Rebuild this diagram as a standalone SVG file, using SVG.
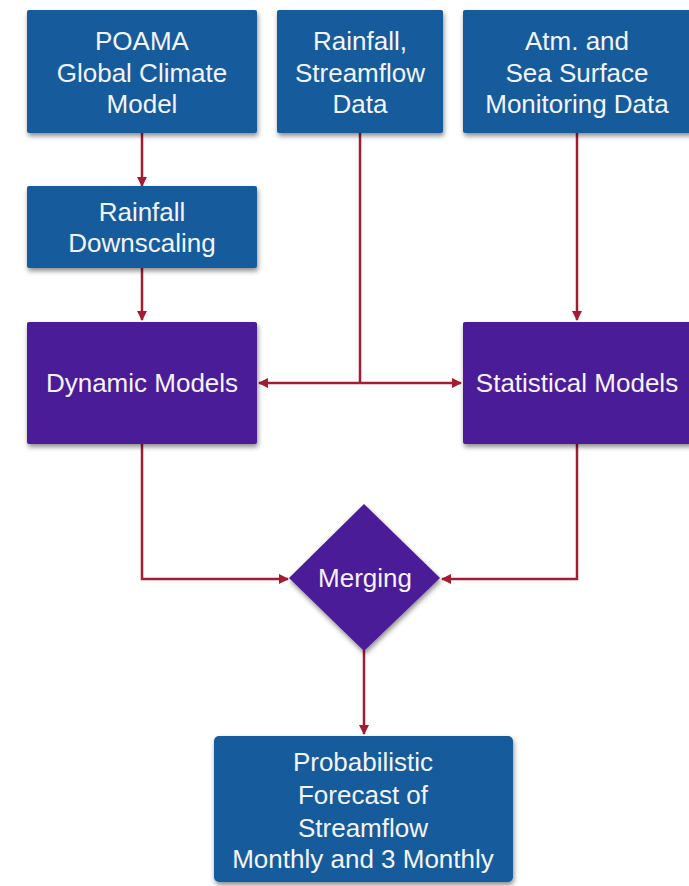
<svg xmlns="http://www.w3.org/2000/svg" width="689" height="886" viewBox="0 0 689 886">
<defs>
<style>
.blue{fill:#195c9c}
.purple{fill:#4c1a98}
.t{fill:#f4f4f8;font-family:"Liberation Sans",Arial,sans-serif;font-size:26px;text-anchor:middle}
.c{fill:none;stroke:#a21c32;stroke-width:2.5}
</style>
<filter id="sh" x="-10%" y="-10%" width="125%" height="130%">
<feDropShadow dx="1" dy="3" stdDeviation="2.5" flood-color="#000" flood-opacity="0.45"/>
</filter>
<marker id="ah" viewBox="0 0 10 10" refX="9" refY="5" markerWidth="4" markerHeight="4" orient="auto" markerUnits="strokeWidth">
<path d="M0,0 L10,5 L0,10 z" fill="#a21c32"/>
</marker>
</defs>
<rect width="689" height="886" fill="#ffffff"/>
<g id="connectors">
<path class="c" d="M142,133 L142,186" marker-end="url(#ah)"/>
<path class="c" d="M142,268 L142,320" marker-end="url(#ah)"/>
<path class="c" d="M360,133 L360,383"/>
<path class="c" d="M360,383 L259,383" marker-end="url(#ah)"/>
<path class="c" d="M360,383 L461,383" marker-end="url(#ah)"/>
<path class="c" d="M577,133 L577,320" marker-end="url(#ah)"/>
<path class="c" d="M142,444 L142,579 L288,579" marker-end="url(#ah)"/>
<path class="c" d="M577,444 L577,579 L442,579" marker-end="url(#ah)"/>
<path class="c" d="M364,650 L364,734" marker-end="url(#ah)"/>
</g>
<g id="poama">
<rect class="blue" x="27" y="10" width="230" height="123" rx="2" filter="url(#sh)"/>
<text class="t" x="142" y="50">POAMA</text>
<text class="t" x="142" y="82">Global Climate</text>
<text class="t" x="142" y="113">Model</text>
</g>
<g id="rainfall-data">
<rect class="blue" x="277" y="10" width="166" height="123" rx="2" filter="url(#sh)"/>
<text class="t" x="360" y="50">Rainfall,</text>
<text class="t" x="360" y="82">Streamflow</text>
<text class="t" x="360" y="113">Data</text>
</g>
<g id="atm-data">
<rect class="blue" x="463" y="10" width="230" height="123" rx="2" filter="url(#sh)"/>
<text class="t" x="577" y="50">Atm. and</text>
<text class="t" x="577" y="82">Sea Surface</text>
<text class="t" x="577" y="113">Monitoring Data</text>
</g>
<g id="downscaling">
<rect class="blue" x="27" y="186" width="230" height="82" rx="2" filter="url(#sh)"/>
<text class="t" x="142" y="221">Rainfall</text>
<text class="t" x="142" y="252">Downscaling</text>
</g>
<g id="dynamic">
<rect class="purple" x="27" y="322" width="230" height="122" rx="2" filter="url(#sh)"/>
<text class="t" x="142" y="392">Dynamic Models</text>
</g>
<g id="statistical">
<rect class="purple" x="463" y="322" width="230" height="122" rx="2" filter="url(#sh)"/>
<text class="t" x="577" y="392">Statistical Models</text>
</g>
<g id="merging">
<polygon class="purple" points="364,504 440,578 364,651 289,578" filter="url(#sh)"/>
<text class="t" x="365" y="587">Merging</text>
</g>
<g id="forecast">
<rect class="blue" x="214" y="736" width="299" height="146" rx="5" filter="url(#sh)"/>
<text class="t" x="363" y="771">Probabilistic</text>
<text class="t" x="363" y="804">Forecast of</text>
<text class="t" x="363" y="837">Streamflow</text>
<text class="t" x="363" y="868">Monthly and 3 Monthly</text>
</g>
</svg>
